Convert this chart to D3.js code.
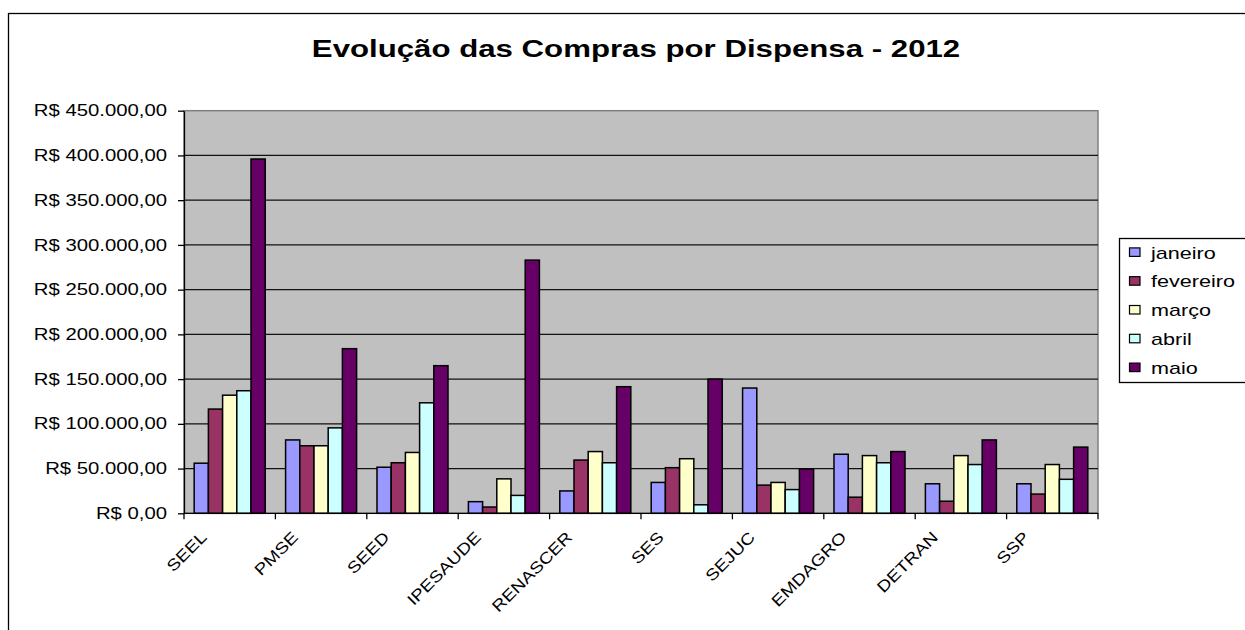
<!DOCTYPE html>
<html>
<head>
<meta charset="utf-8">
<script src="https://cdn.jsdelivr.net/npm/d3@7"></script>
<style>
  body { margin: 0; background: #fff; }
  svg { display: block; font-family: "Liberation Sans", Arial, sans-serif; }
</style>
</head>
<body>
<div class="canvas"></div>
<script>
// data
const categories = ["SEEL", "PMSE", "SEED", "IPESAUDE", "RENASCER", "SES", "SEJUC", "EMDAGRO", "DETRAN", "SSP"]
const seriesNames = ["janeiro", "fevereiro", "março", "abril", "maio"]
const janeiro   = [56000, 82000, 51500, 13000, 25000, 34500, 140000, 66000, 33000, 33000]
const fevereiro = [116500, 75500, 56500, 7000, 59500, 51000, 31500, 18000, 13500, 21500]
const marco     = [132000, 75500, 68000, 38500, 69000, 61000, 34500, 64500, 64500, 54500]
const abril     = [137000, 95500, 123500, 20000, 56500, 9500, 26500, 56500, 54500, 38000]
const maio      = [396000, 184000, 165000, 283000, 141500, 150000, 49500, 69000, 82000, 74000]
const yTicks = [0, 50000, 100000, 150000, 200000, 250000, 300000, 350000, 400000, 450000]
const colors = ["#9999FF", "#993366", "#FFFFCC", "#CCFFFF", "#660066"]

const seriesValues = [janeiro, fevereiro, marco, abril, maio]

// the picture is stretched sideways, so text is too
const sx = 1.27

const canvas = d3.select(".canvas")
const svg = canvas.append('svg')
    .attr('width', 1245)
    .attr('height', 630)

// outer chart frame (runs off right and bottom)
svg.append('rect')
    .attr('x', 8.5)
    .attr('y', 13.5)
    .attr('width', 1300)
    .attr('height', 700)
    .attr('fill', 'none')
    .attr('stroke', '#000')
    .attr('stroke-width', 1.3)

const pLeft = 184, pRight = 1098, pTop = 110.7, pBottom = 513.3

const x0 = d3.scaleBand()
    .domain(categories)
    .range([pLeft, pRight])
    .paddingInner(0.223)
    .paddingOuter(0.1115)

const x1 = d3.scaleBand()
    .domain(seriesNames)
    .range([0, x0.bandwidth()])

const y = d3.scaleLinear()
    .domain([0, 450000])
    .range([pBottom, pTop])

const ptBR = d3.formatLocale({decimal: ",", thousands: ".", grouping: [3], currency: ["R$ ", ""]})
const fmt = ptBR.format("$,.2f")

// plot area
svg.append('rect')
    .attr('x', pLeft)
    .attr('y', pTop)
    .attr('width', pRight - pLeft)
    .attr('height', pBottom - pTop)
    .attr('fill', '#C0C0C0')
    .attr('stroke', '#808080')
    .attr('stroke-width', 1.5)

// gridlines
svg.append('g')
    .selectAll('line')
    .data(yTicks.slice(1, -1))
    .join('line')
    .attr('x1', pLeft)
    .attr('x2', pRight)
    .attr('y1', d => y(d))
    .attr('y2', d => y(d))
    .attr('stroke', '#111')
    .attr('stroke-width', 1.2)

// bars
const groups = svg.append('g')
    .selectAll('g')
    .data(categories)
    .join('g')
    .attr('transform', d => `translate(${x0(d)},0)`)

groups.selectAll('rect')
    .data((d, i) => seriesNames.map((s, j) => ({s: s, j: j, v: seriesValues[j][i]})))
    .join('rect')
    .attr('x', d => x1(d.s))
    .attr('y', d => y(d.v))
    .attr('width', x1.bandwidth())
    .attr('height', d => pBottom - y(d.v))
    .attr('fill', d => colors[d.j])
    .attr('stroke', '#000')
    .attr('stroke-width', 1.5)

// y axis
const yAxis = svg.append('g')
    .attr('transform', `translate(${pLeft},0)`)
    .call(d3.axisLeft(y).tickValues(yTicks).tickFormat(fmt).tickSize(6).tickSizeOuter(0))

yAxis.select('.domain').attr('stroke', '#000').attr('stroke-width', 1.3)
yAxis.selectAll('.tick line').attr('stroke', '#000').attr('stroke-width', 1.3)
yAxis.selectAll('.tick text')
    .attr('x', -17 / sx)
    .attr('transform', `scale(${sx},1)`)
    .attr('fill', '#000')
    .style('font-size', '16px')
    .style('font-family', '"Liberation Sans", Arial, sans-serif')

// x axis: line, ticks between categories, rotated labels
const gap = (x0.step() - x0.bandwidth()) / 2
const bounds = categories.map(c => x0(c) - gap).concat([pRight])

svg.append('line')
    .attr('x1', pLeft)
    .attr('x2', pRight)
    .attr('y1', pBottom)
    .attr('y2', pBottom)
    .attr('stroke', '#000')
    .attr('stroke-width', 1.3)

svg.append('g')
    .selectAll('line')
    .data(bounds)
    .join('line')
    .attr('x1', d => d)
    .attr('x2', d => d)
    .attr('y1', pBottom)
    .attr('y2', pBottom + 6)
    .attr('stroke', '#000')
    .attr('stroke-width', 1.3)

// labels sit at 45 degrees, glyphs a bit wide along the baseline
svg.append('g')
    .selectAll('text')
    .data(categories)
    .join('text')
    .attr('transform', d => `translate(${x0(d) + x0.bandwidth() / 2 - 22},${pBottom + 25}) rotate(-45) scale(1.19,1)`)
    .attr('text-anchor', 'end')
    .style('font-size', '16px')
    .text(d => d)

// title
svg.append('text')
    .attr('transform', `translate(636,57) scale(1.3,1)`)
    .attr('text-anchor', 'middle')
    .style('font-size', '24px')
    .style('font-weight', 'bold')
    .text('Evolução das Compras por Dispensa - 2012')

// legend
const lg = svg.append('g')
lg.append('rect')
    .attr('x', 1119.5)
    .attr('y', 238.5)
    .attr('width', 200)
    .attr('height', 144)
    .attr('fill', '#fff')
    .attr('stroke', '#000')
    .attr('stroke-width', 1.3)

const items = lg.selectAll('g')
    .data(seriesNames)
    .join('g')
    .attr('transform', (d, i) => `translate(0,${252.4 + i * 28.8})`)

items.append('rect')
    .attr('x', 1129.5)
    .attr('y', -4.5)
    .attr('width', 10.5)
    .attr('height', 8.5)
    .attr('fill', (d, i) => colors[i])
    .attr('stroke', '#000')
    .attr('stroke-width', 1.2)

items.append('text')
    .attr('transform', `translate(1151,0) scale(${sx},1)`)
    .attr('dy', '0.36em')
    .style('font-size', '17px')
    .text(d => d)
</script>
</body>
</html>
